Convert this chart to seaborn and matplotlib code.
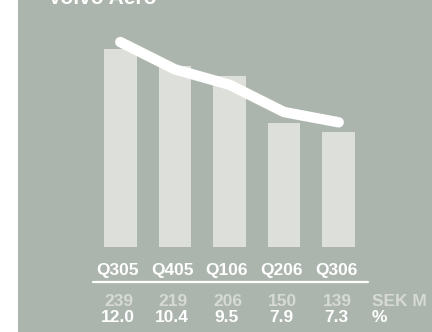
import matplotlib
matplotlib.use("Agg")
import matplotlib.pyplot as plt
import seaborn as sns
import pandas as pd
from matplotlib.patches import Rectangle
from matplotlib.transforms import blended_transform_factory

quarters = ["Q305", "Q405", "Q106", "Q206", "Q306"]
income_sek_m = [239, 219, 206, 150, 139]
margin_pct = [12.0, 10.4, 9.5, 7.9, 7.3]
title = "Volvo Aero"
unit_income = "SEK M"
unit_margin = "%"

BG = "#abb5ad"
BAR = "#dcdfda"
GREY_TXT = "#d6d9d4"

sns.set_theme(style="white")
plt.rcParams["font.family"] = ["Liberation Sans", "DejaVu Sans"]
plt.rcParams["font.weight"] = "bold"

W, H = 432, 332
fig = plt.figure(figsize=(W / 100, H / 100), dpi=100)
fig.patch.set_facecolor("white")
fig.patches.append(Rectangle((18 / W, 0), 1, 1, transform=fig.transFigure,
                             facecolor=BG, edgecolor="none", zorder=-10))

# axes in pixel layout: x 93..366, y (from top) 30..247
ax = fig.add_axes([93 / W, (H - 247) / H, 273 / W, 217 / H])
ax.set_facecolor("none")
df = pd.DataFrame({"q": quarters, "v": income_sek_m, "m": margin_pct})
sns.barplot(data=df, x="q", y="v", color=BAR, width=0.6, saturation=1,
            edgecolor="none", ax=ax)
ax.set_xlim(-0.5, 4.5)
ax.set_ylim(0, 217 / 0.8285)
ax.axis("off")

ax2 = ax.twinx()
ax2.set_facecolor("none")
sns.lineplot(x=list(range(len(quarters))), y=margin_pct, color="white",
             linewidth=7.5, solid_capstyle="round", solid_joinstyle="round", ax=ax2)
ax2.set_xlim(-0.5, 4.5)
ax2.set_ylim(0, 217 / 17.08)
ax2.axis("off")

tr = blended_transform_factory(ax.transData, fig.transFigure)
fs = 12.5
for i, q in enumerate(quarters):
    ax.text(i - 0.05, (H - 271) / H, q, transform=tr, ha="center", va="center",
            color="white", fontsize=fs, fontweight="bold")
    ax.text(i - 0.03, (H - 302) / H, str(income_sek_m[i]), transform=tr,
            ha="center", va="center", color=GREY_TXT, fontsize=fs, fontweight="bold")
    ax.text(i - 0.05, (H - 318) / H, f"{margin_pct[i]:.1f}", transform=tr,
            ha="center", va="center", color="white", fontsize=fs, fontweight="bold")

fig.text(372 / W, (H - 302) / H, unit_income, ha="left", va="center",
         color=GREY_TXT, fontsize=fs, fontweight="bold")
fig.text(372 / W, (H - 318) / H, unit_margin, ha="left", va="center",
         color="white", fontsize=fs, fontweight="bold")

# underline under quarter labels
fig.add_artist(plt.Line2D([93 / W, 368 / W], [(H - 282) / H, (H - 282) / H],
                          transform=fig.transFigure, color="white", linewidth=1.6))

# title, mostly cut off at the top (as in the reference)
fig.text(48 / W, 1 - 3.5 / H, title, ha="left", va="baseline", color="white",
         fontsize=15, fontweight="bold")

fig.savefig("out.png", dpi=100, facecolor=fig.get_facecolor())
